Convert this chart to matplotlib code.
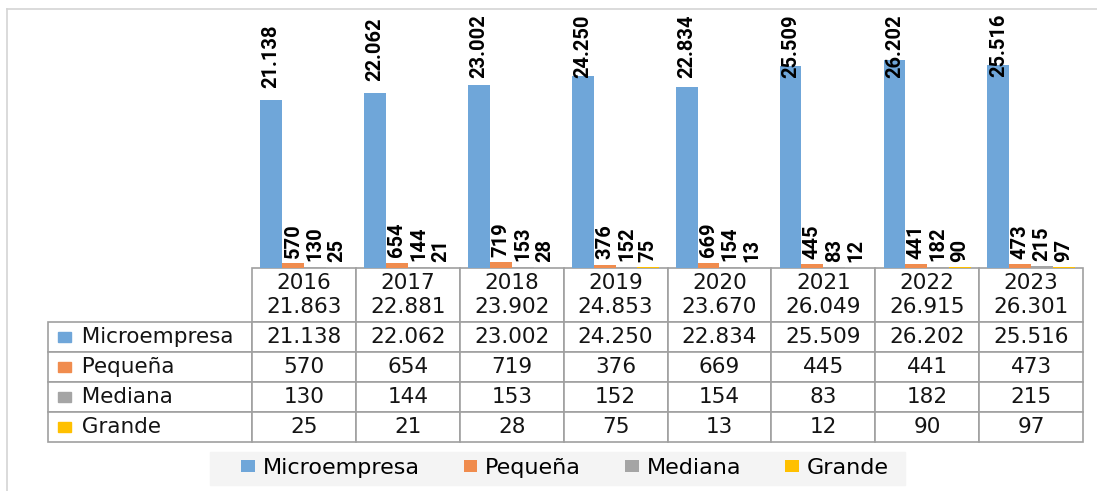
import matplotlib.pyplot as plt
from matplotlib.table import Table
from matplotlib.patches import Rectangle
from matplotlib.lines import Line2D

# data
years = ['2016', '2017', '2018', '2019', '2020', '2021', '2022', '2023']
series = ['Microempresa', 'Pequeña', 'Mediana', 'Grande']
micro = [21138, 22062, 23002, 24250, 22834, 25509, 26202, 25516]
pequena = [570, 654, 719, 376, 669, 445, 441, 473]
mediana = [130, 144, 153, 152, 154, 83, 182, 215]
grande = [25, 21, 28, 75, 13, 12, 90, 97]
colors = ['#6fa6d9', '#f08c4e', '#a5a5a5', '#ffc000']

values = [micro, pequena, mediana, grande]
totals = [sum(v) for v in zip(*values)]


def fmt(v):
    return f'{v:,}'.replace(',', '.')


W, H = 1097, 491
fig = plt.figure(figsize=(W / 100, H / 100), dpi=100)
plt.rcParams['font.family'] = 'DejaVu Sans'

# outer frame (top and left edge visible)
fig.add_artist(Line2D([7 / W, 7 / W], [0, 1 - 9 / H], color='#d4d4d4', lw=1.2))
fig.add_artist(Line2D([7 / W, 1], [1 - 9 / H, 1 - 9 / H], color='#d4d4d4', lw=1.2))

ax = fig.add_axes([252 / W, 1 - 268 / H, 831 / W, 254 / H])
ax.set_xlim(-0.5, len(years) - 0.5)
ax.set_ylim(0, 32000)
ax.axis('off')

bw = 0.21
x = list(range(len(years)))
bars = []
labels = []
for i, (name, vals, c) in enumerate(zip(series, values, colors)):
    xs = [xi + (i - 1.5) * bw for xi in x]
    b = ax.bar(xs, vals, width=bw, color=c, label=name)
    bars.append(b)
    pad = 8.5 if i == 0 else 4
    for xi, v in zip(xs, vals):
        t = ax.annotate(fmt(v), (xi, v), xytext=(0, pad), textcoords='offset points',
                        rotation=90, ha='center', va='bottom', fontsize=14.5,
                        family=['Roboto', 'DejaVu Sans'],
                        fontweight='bold', color='black', annotation_clip=False)
        labels.append((t, xi))

# table under the bars
hdr_h = 54 / 254
row_h = 30 / 254
tbl = Table(ax, bbox=[0, -(hdr_h + 4 * row_h), 1, hdr_h + 4 * row_h])
cw = 1 / len(years)
edge = '#a0a0a0'
fs = 15.5
for j, yr in enumerate(years):
    c = tbl.add_cell(0, j, cw, hdr_h, text=f'{yr}\n{fmt(totals[j])}', loc='center',
                     edgecolor=edge)
    c.get_text().set_linespacing(1.25)
for r, (name, vals) in enumerate(zip(series, values), start=1):
    tbl.add_cell(r, -1, 204 / 831, row_h, text='  ' + name, loc='left', edgecolor=edge)
    for j, v in enumerate(vals):
        tbl.add_cell(r, j, cw, row_h, text=fmt(v), loc='center', edgecolor=edge)
tbl.auto_set_font_size(False)
tbl.set_fontsize(fs)
for cell in tbl.get_celld().values():
    cell.set_linewidth(1.2)
    cell.get_text().set_color('#141414')
ax.add_table(tbl)

# colored squares in the row labels
for r, c in enumerate(colors):
    yc = -hdr_h - (r + 0.5) * row_h
    ax.add_patch(Rectangle((-0.2335, yc - 5 / 254), 13 / 831, 10 / 254, color=c,
                           transform=ax.transAxes, clip_on=False))

# legend with light background
fig.add_artist(Rectangle((210 / W, 1 - 485 / H), 695 / W, 33 / H, color='#f4f4f4', zorder=0))
fig.legend(handles=bars, labels=series, loc='center', ncol=4, frameon=False,
           bbox_to_anchor=(565 / W, 1 - 468 / H), fontsize=16, handlelength=0.6,
           handleheight=0.5, handletextpad=0.35, columnspacing=2.0)

# keep labels inside the plot area, like the original
fig.canvas.draw()
top = ax.get_window_extent().y1
for t, xi in labels:
    if t.get_window_extent().y1 > top:
        t.xy = (xi, ax.get_ylim()[1])
        t.xyann = (0, 0)
        t.set_va('top')

fig.savefig('out.png', dpi=100)
